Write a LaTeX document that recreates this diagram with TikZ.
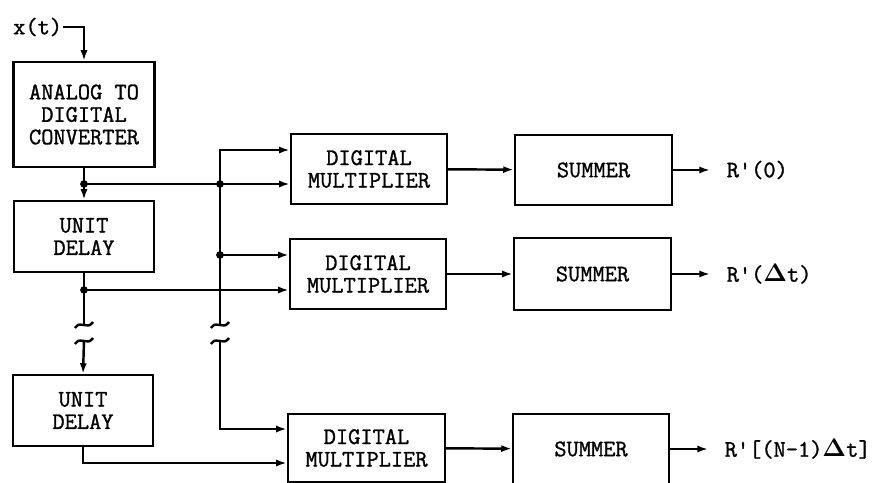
\documentclass[tikz,border=0pt]{standalone}
\usepackage{fontspec}
\usepackage{amsmath}
\newfontfamily\typ{Latin Modern Mono}[FakeBold=1.2]
\usetikzlibrary{arrows.meta}
\tikzset{
  blk/.style={draw, line width=1.4pt, align=center, font=\fontsize{13.5}{12.8}\selectfont\typ},
  lbl/.style={anchor=west, inner sep=2pt, font=\fontsize{13.5}{14}\selectfont\typ},
  brk/.pic={\draw (-9,3) .. controls (-3,-6) and (3,6) .. (9,-3);}
}
\begin{document}
\begin{tikzpicture}[x=0.02cm, y=-0.02cm, line width=1.4pt,
    >={Latex[length=6pt, width=4pt]}]
  \useasboundingbox (0,0) rectangle (880,483);
  % Define node positions
  \node[lbl, inner xsep=0pt] (X) at (12,27) {x(t)};
  \node[blk, minimum width=2.82cm, minimum height=2.1cm] (ADC) at (84,114.5) {ANALOG TO\\DIGITAL\\CONVERTER};
  \node[blk, minimum width=2.8cm, minimum height=1.42cm] (D1) at (84,236.5) {UNIT\\DELAY};
  \node[blk, minimum width=2.8cm, minimum height=1.42cm] (D2) at (83,410.5) {UNIT\\DELAY};
  \node[blk, minimum width=3.12cm, minimum height=1.4cm] (M1) at (369,169) {DIGITAL\\MULTIPLIER};
  \node[blk, minimum width=3.12cm, minimum height=1.4cm] (M2) at (368,274) {DIGITAL\\MULTIPLIER};
  \node[blk, minimum width=3.14cm, minimum height=1.36cm] (M3) at (366.5,448) {DIGITAL\\MULTIPLIER};
  \node[blk, minimum width=3.14cm, minimum height=1.4cm] (S1) at (593.5,170) {SUMMER};
  \node[blk, minimum width=3.14cm, minimum height=1.44cm] (S2) at (592.5,274) {SUMMER};
  \node[blk, minimum width=3.12cm, minimum height=1.4cm] (S3) at (591,449) {SUMMER};
  \node[lbl] (R1) at (722,170) {R'(0)};
  \node[lbl] (R2) at (722,274) {R'($\boldsymbol{\Delta}$t)};
  \node[lbl] (R3) at (720,449) {R'\textbf{[}(N-1)$\boldsymbol{\Delta}$\textbf{t]}};
  \coordinate (J1) at (84,184);
  \coordinate (J2) at (84,290);
  \coordinate (B0) at (220,150);
  \coordinate (B1) at (220,184);
  \coordinate (B2) at (220,255);
  \coordinate (E1) at (84,325);
  \coordinate (E2) at (84,341);
  \coordinate (E3) at (220,325);
  \coordinate (E4) at (220,341);
  \coordinate (B3) at (220,429);
  \coordinate (K) at (83,463);

  % Draw arrows
  \draw[->] (X.east) -| (ADC.north);
  \draw[->] (ADC.south) -- (D1.north);
  \draw (D1.south) -- (E1);
  \draw[->] (E2) -- (D2.north);
  \draw[->] (J1) -- (M1.west |- J1);
  \draw[->] (J2) -- (M2.west |- J2);
  \draw[->] (E3) -- (B0) -- (M1.west |- B0);
  \draw[->] (B2) -- (M2.west |- B2);
  \draw[->] (E4) -- (B3) -- (M3.west |- B3);
  \draw[->] (D2.south) -- (K) -- (M3.west |- K);
  \draw[->] (M1) -- (S1);
  \draw[->] (M2) -- (S2);
  \draw[->] (M3) -- (S3);
  \draw[->, shorten >=0.24cm] (S1.east) -- (R1.west);
  \draw[->, shorten >=0.24cm] (S2.east) -- (R2.west);
  \draw[->, shorten >=0.24cm] (S3.east) -- (R3.west);

  % Junction dots and breaks
  \foreach \j in {J1,J2,B1,B2} \fill (\j) circle (2.2pt);
  \foreach \e in {E1,E2,E3,E4} \pic at (\e) {brk};
\end{tikzpicture}
\end{document}
